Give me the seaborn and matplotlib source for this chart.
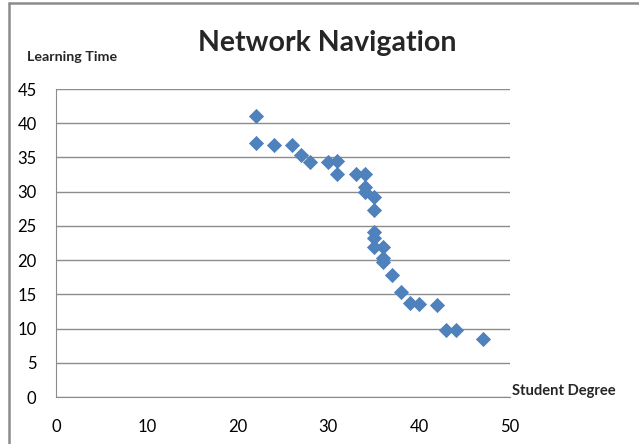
import matplotlib
matplotlib.use("Agg")
import matplotlib.pyplot as plt
import seaborn as sns
import pandas as pd
from matplotlib.lines import Line2D

student_degree = [22, 22, 24, 26, 27, 28, 30, 31, 31, 33, 34, 34, 34, 35, 35, 35, 35, 35, 36, 36, 36, 37, 38, 39, 40, 42, 43, 44, 47]
learning_time = [41.0, 37.1, 36.8, 36.8, 35.4, 34.4, 34.4, 34.5, 32.6, 32.6, 32.6, 30.7, 30.0, 29.2, 27.3, 24.1, 23.2, 21.9, 21.9, 20.3, 19.7, 17.8, 15.4, 13.7, 13.6, 13.4, 9.8, 9.8, 8.5]
x_ticks = [0, 10, 20, 30, 40, 50]
y_ticks = [0, 5, 10, 15, 20, 25, 30, 35, 40, 45]

df = pd.DataFrame({"Student Degree": student_degree, "Learning Time": learning_time})

sns.set_style("white")
plt.rcParams['font.family'] = ['Lato', 'DejaVu Sans']

fig = plt.figure(figsize=(6.39, 4.44), dpi=100)
ax = fig.add_axes([56/639, 1-397/444, (510-56)/639, (397-89)/444])

sns.scatterplot(data=df, x="Student Degree", y="Learning Time", ax=ax,
                marker="D", s=60, color="#4F81BD", edgecolor="#4F81BD", linewidth=0, zorder=3)

ax.set_xlim(0, 50)
ax.set_ylim(0, 45)
ax.set_xticks(x_ticks)
ax.set_yticks(y_ticks)
ax.set_xlabel("")
ax.set_ylabel("")
ax.yaxis.grid(True, color="#8C8C8C", linewidth=1)
ax.xaxis.grid(False)
ax.set_axisbelow(True)
for side in ["top", "right"]:
    ax.spines[side].set_visible(False)
ax.spines["left"].set_color("#8C8C8C")
ax.spines["bottom"].set_color("#8C8C8C")
ax.tick_params(axis="both", which="both", length=6, color="#8C8C8C", labelsize=12, labelcolor="black")
ax.tick_params(axis="x", pad=10)
ax.tick_params(axis="y", pad=8)

fig.text(327/639, 1-43/444, "Network Navigation", ha="center", va="center", fontsize=20.5, fontweight="bold")
fig.text(27/639, 1-57/444, "Learning Time", ha="left", va="center", fontsize=10.3, fontweight="bold")
fig.text(512/639, 1-391/444, "Student Degree", ha="left", va="center", fontsize=10.6, fontweight="bold")

fig.lines.append(Line2D([9/639, 1], [1-3/444, 1-3/444], transform=fig.transFigure, color="#8C8C8C", linewidth=1.8))
fig.lines.append(Line2D([9/639, 9/639], [1-3/444, 0], transform=fig.transFigure, color="#8C8C8C", linewidth=1.8))

fig.savefig("out.png", dpi=100)
